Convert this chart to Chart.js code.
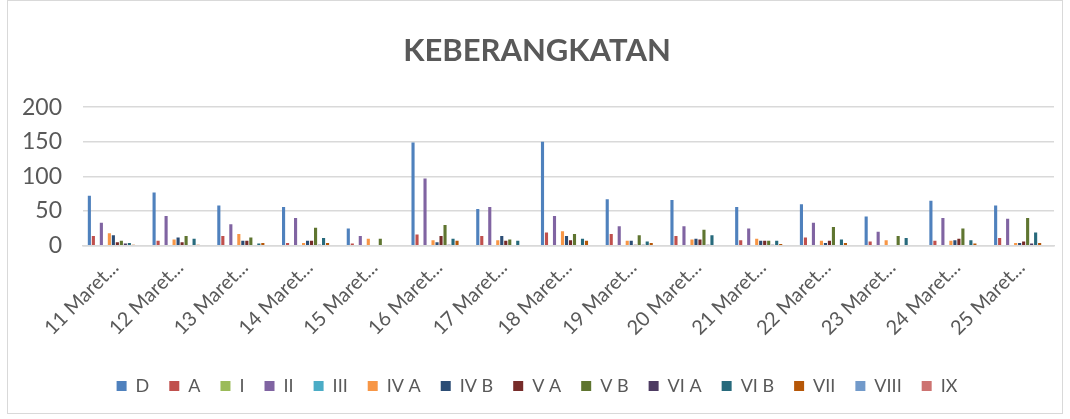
<!DOCTYPE html>
<html>
<head>
<meta charset="utf-8">
<script src="https://cdn.jsdelivr.net/npm/chart.js@4/dist/chart.umd.min.js"></script>
<style>
  html, body { margin: 0; padding: 0; background: #fff; }
  #wrap { position: absolute; left: 7px; top: 0; width: 1056px; height: 414px; border: 1px solid #d9d9d9; box-sizing: border-box; }
  #box { position: absolute; left: 0; top: 0; width: 1070px; height: 419px; }
</style>
</head>
<body>
<div id="wrap"></div>
<div id="box"><canvas id="chart" width="1070" height="419"></canvas></div>
<script>
const categories = ["11 Maret 2020","12 Maret 2020","13 Maret 2020","14 Maret 2020","15 Maret 2020",
  "16 Maret 2020","17 Maret 2020","18 Maret 2020","19 Maret 2020","20 Maret 2020",
  "21 Maret 2020","22 Maret 2020","23 Maret 2020","24 Maret 2020","25 Maret 2020"];

const D    = [72, 77, 58, 56, 25, 149, 53, 150, 67, 66, 56, 60, 42, 65, 58];
const A    = [14, 7, 14, 4, 3, 16, 14, 19, 17, 14, 8, 12, 6, 7, 11];
const I    = [0, 0, 0, 0, 0, 0, 0, 0, 0, 0, 0, 0, 0, 0, 0];
const II   = [33, 43, 31, 40, 14, 97, 56, 43, 28, 28, 25, 33, 20, 40, 39];
const III  = [0, 0, 0, 0, 0, 0, 0, 0, 0, 0, 0, 0, 0, 0, 0];
const IVA  = [18, 9, 17, 4, 10, 8, 8, 21, 7, 9, 10, 7, 8, 7, 4];
const IVB  = [15, 12, 7, 7, 0, 5, 14, 14, 7, 10, 7, 4, 1, 8, 4];
const VA   = [5, 5, 7, 7, 0, 14, 7, 8, 1.5, 9, 7, 7, 0, 10, 6];
const VB   = [7, 14, 12, 26, 10, 30, 9, 17, 15, 23, 7, 27, 14, 25, 40];
const VIA  = [3, 0, 0, 1.5, 0, 1.5, 0, 0, 1.5, 1.5, 1.5, 0, 0, 0, 3];
const VIB  = [4, 10, 3, 11, 1, 10, 7, 10, 6, 15, 7, 9, 11, 8, 19];
const VII  = [1.5, 1.5, 4, 4, 1, 7, 0, 7, 4, 0, 2.5, 4, 0, 3, 4];
const VIII = [0, 1, 0, 0, 0, 0, 0, 0, 0, 0, 0, 0, 0, 0, 0];
const IX   = [0, 0, 0, 0, 0, 0, 0, 0, 0, 0, 0, 0, 0, 0, 0];

const seriesNames = ["D","A","I","II","III","IV A","IV B","V A","V B","VI A","VI B","VII","VIII","IX"];
const seriesData = [D, A, I, II, III, IVA, IVB, VA, VB, VIA, VIB, VII, VIII, IX];
const colors = ["#4F81BD","#C0504D","#9BBB59","#8064A2","#4BACC6","#F79646","#2C4D75",
  "#772C2A","#5F7530","#4D3B62","#276A7C","#B65708","#729ACA","#CD7371"];

const yTicks = [0, 50, 100, 150, 200];

new Chart(document.getElementById("chart"), {
  type: "bar",
  data: {
    labels: categories,
    datasets: seriesNames.map((name, i) => ({
      label: name,
      data: seriesData[i],
      backgroundColor: colors[i],
      borderWidth: 0,
      categoryPercentage: 0.865,
      barPercentage: 0.78
    }))
  },
  options: {
    responsive: false,
    animation: false,
    layout: { autoPadding: false, padding: { left: 20, right: 16, top: 0, bottom: 14 } },
    plugins: {
      title: {
        display: true,
        text: "KEBERANGKATAN",
        color: "#595959",
        font: { family: "Lato", size: 31, weight: "bold" },
        padding: { top: 32, bottom: 38 }
      },
      legend: {
        position: "bottom",
        labels: {
          color: "#595959",
          font: { family: "Lato", size: 18 },
          boxWidth: 10,
          boxHeight: 10,
          padding: 20
        }
      },
      tooltip: { enabled: false }
    },
    scales: {
      x: {
        grid: { display: false },
        border: { color: "#d9d9d9", width: 1.5 },
        afterFit: (scale) => {
          scale.height += 15;
          scale.paddingLeft = 0;
          scale.paddingRight = 0;
        },
        ticks: {
          color: "#595959",
          font: { family: "Lato", size: 20 },
          minRotation: 45,
          maxRotation: 45,
          padding: 2,
          callback: function (v) {
            const parts = this.getLabelForValue(v).split(" ");
            return parts[0] + " " + parts[1] + "...";
          }
        }
      },
      y: {
        min: 0,
        max: 200,
        afterBuildTicks: (axis) => { axis.ticks = yTicks.map(v => ({ value: v })); },
        afterFit: (scale) => { scale.width = 63; },
        grid: { color: "#d9d9d9", lineWidth: 1.5, drawTicks: false },
        border: { display: false },
        ticks: {
          color: "#595959",
          font: { family: "Lato", size: 23 },
          padding: 21
        }
      }
    }
  }
});
</script>
</body>
</html>
